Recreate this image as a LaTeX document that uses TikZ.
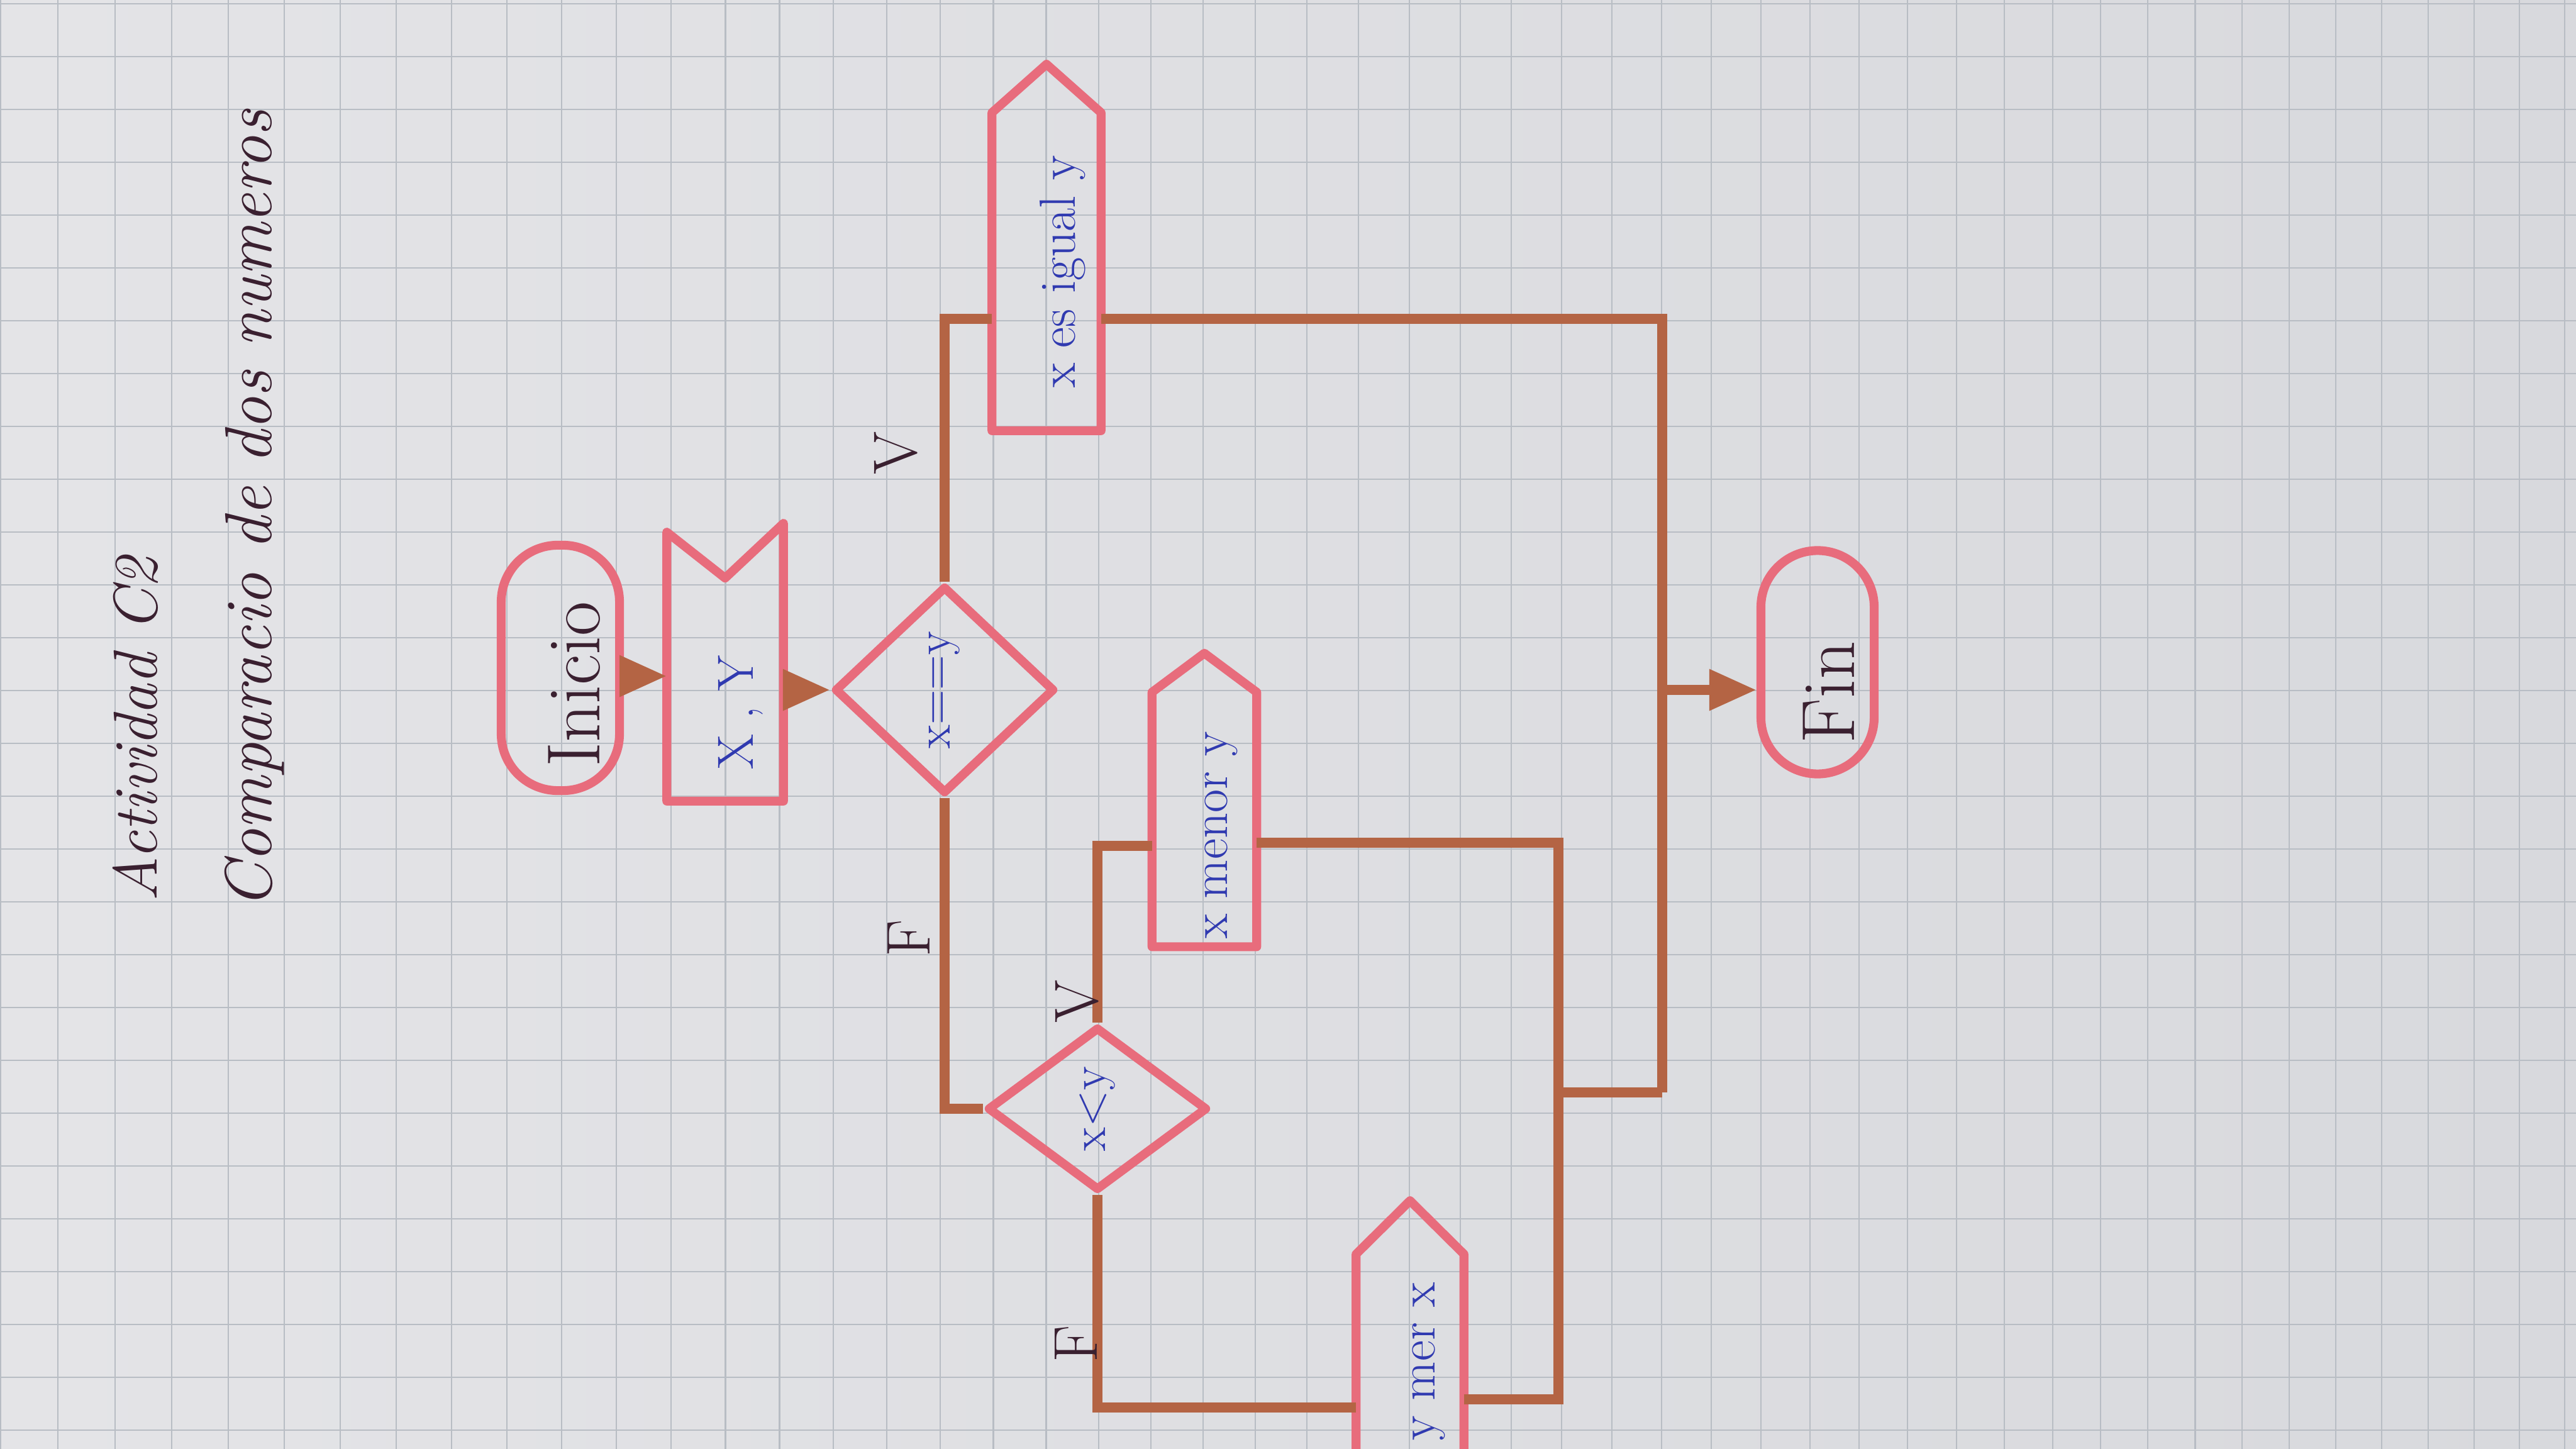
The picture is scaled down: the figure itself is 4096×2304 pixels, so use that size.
\documentclass[tikz,border=0pt]{standalone}
\usepackage{graphicx}
\usetikzlibrary{shapes.geometric,shapes.misc}
\usetikzlibrary{calc,arrows.meta}
\definecolor{Paper}{RGB}{228,228,231}
\definecolor{PaperDark}{RGB}{216,217,221}
\definecolor{Grid}{RGB}{184,189,196}
\definecolor{Pink}{RGB}{232,108,124}
\definecolor{Brown}{RGB}{180,100,68}
\definecolor{Ink}{RGB}{48,58,176}
\definecolor{Dark}{RGB}{58,32,48}
% texto vertical: #1 corre a la derecha (x2), #2 corre hacia abajo (x2)
\newcommand{\girado}[3]{\rotatebox{90}{\raisebox{0pt}[\dimexpr\height+#1\relax]{#3}\hspace*{#2}}}
\tikzset{
	grid line/.style={draw=Grid, line width=0.6pt},
	outline/.style={draw=Pink, line width=4pt, line join=round},
	terminal/.style={rectangle, rounded corners=9mm, outline, inner sep=0pt, text=Dark, font=\fontsize{34}{40}\selectfont},
	decision/.style={diamond, outline, inner sep=0pt, text=Ink, font=\fontsize{22}{26}\selectfont},
	box/.style={rectangle, inner sep=0pt, text=Ink, font=\fontsize{23}{28}\selectfont},
	flow/.style={draw=Brown, line width=4.4pt},
	arrow/.style={flow, -{Triangle[length=7.5mm,width=6.2mm]}},
	tag/.style={rotate=90, text=Dark, font=\fontsize{28}{32}\selectfont},
}
\begin{document}
\begin{tikzpicture}[x=0.01cm, y=-0.01cm]
	\useasboundingbox (0,0) rectangle (4096,2304);
	\shade[left color=Paper, right color=PaperDark] (0,0) rectangle (4096,2304);
	\clip (0,0) rectangle (4096,2304);
	% hoja cuadriculada
	\foreach \k in {-1,...,50} {
		\pgfmathsetmacro\gx{92+90.76*\k-0.192*\k*\k}
		\draw[grid line] (\gx,0) -- (\gx,2304);
	}
	\foreach \gy in {6,90,...,2304}
		\draw[grid line] (0,\gy) -- (4096,\gy);

	\node (titulo) [tag, font=\itshape\fontsize{28}{32}\selectfont] at (215,1160) {Actividad C2};
	\node (subtitulo) [tag, font=\itshape\fontsize{30}{34}\selectfont] at (405,810) {Comparacio de dos numeros};

	\node (inicio) [terminal, minimum width=18.8mm, minimum height=39mm] at (891,1062) {\girado{4.5mm}{5.2mm}{Inicio}};
	\node (xy) [box, minimum width=18.4mm, minimum height=44mm] at (1153,1053) {\girado{5mm}{16mm}{X , Y}};
	\node (eq) [decision, minimum width=35mm, minimum height=33mm] at (1502,1097) {\girado{0mm}{0mm}{x==y}};
	\node (igual) [box, minimum width=17.2mm, minimum height=50.4mm] at (1664,432) {\girado{5.2mm}{0mm}{x es igual y}};
	\node (xly) [decision, minimum width=35mm, minimum height=26mm] at (1745,1763) {\girado{0mm}{0mm}{x<y}};
	\node (menor) [box, minimum width=16.5mm, minimum height=40.3mm] at (1915,1303) {\girado{5.4mm}{5mm}{x menor y}};
	\node (ymer) [box, minimum width=17mm, minimum height=42mm] at (2242,2205) {\girado{6mm}{-8mm}{y mer x}};
	\node (fin) [terminal, minimum width=18mm, minimum height=35.5mm] at (2890,1053) {\girado{3.5mm}{9.6mm}{Fin}};

	% bordes de entrada y salida
	\draw[outline] (xy.south west) -- ($(xy.north west)+(0,14)$) -- ($(xy.north)+(0,87)$) -- (xy.north east) -- (xy.south east) -- cycle;
	\foreach \n/\p in {igual/77,menor/62,ymer/85}
		\draw[outline] (\n.south west) -- (\n.north west) -- ($(\n.north)+(0,-\p)$) -- (\n.north east) -- (\n.south east) -- cycle;

	\coordinate (union) at (2643,1737);
	\coordinate (lazo) at (2478,1737);

	\draw[arrow] (inicio.east |- 0,1075) -- (xy.west |- 0,1075);
	\draw[arrow] (xy.east |- eq.west) -- (eq.west);
	\draw[flow] (eq.north) |- (igual.west |- 0,507);
	\draw[flow] (igual.east |- 0,507) -| (union);
	\draw[arrow] (union |- 0,1097) -- (fin.west |- 0,1097);
	\draw[flow] (eq.south) |- (xly.west);
	\draw[flow] (xly.north) |- (menor.west |- 0,1345);
	\draw[flow] (menor.east |- 0,1340) -| (lazo) -- (union);
	\draw[flow] (xly.south) |- (ymer.west |- 0,2238);
	\draw[flow] (ymer.east |- 0,2225) -| (lazo);

	\node (v1) [tag] at (1425,720) {V};
	\node (f1) [tag] at (1445,1492) {F};
	\node (v2) [tag] at (1713,1592) {V};
	\node (f2) [tag] at (1711,2137) {F};
\end{tikzpicture}
\end{document}
